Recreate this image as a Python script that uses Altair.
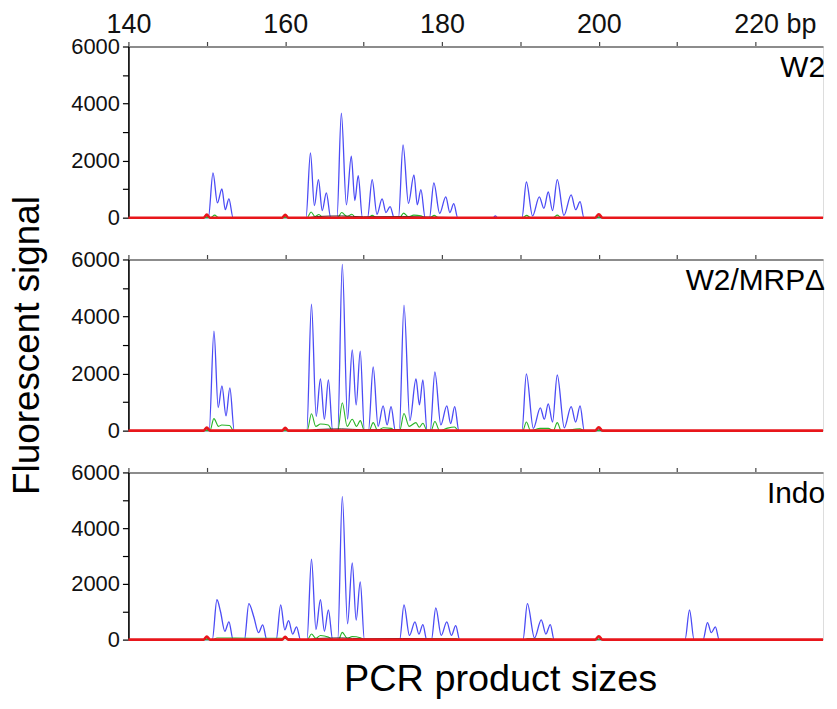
import altair as alt
import pandas as pd

# ---------------- data ----------------
# x: PCR product size (bp), y: fluorescent signal
x_ticks = [140, 150, 160, 170, 180, 190, 200, 210, 220]
x_domain = [140, 228.6]
y_ticks = [0, 1000, 2000, 3000, 4000, 5000, 6000]
panel_names = ["W2", "W2/MRP\u0394", "Indo"]

# W2 panel
w2_blue_bp = [140.0, 150.2, 150.79, 151.35, 151.93, 152.35, 152.82, 153.35,
              162.65, 163.22, 163.72, 164.24, 164.72, 165.25, 165.8,
              166.6, 167.16, 167.8, 168.43, 168.88, 169.31, 169.85,
              170.5, 171.09, 171.7, 172.36, 172.85, 173.38, 173.9,
              174.45, 175.03, 175.72, 176.42, 176.85, 177.31, 177.85,
              178.4, 178.96, 179.7, 180.48, 181.0, 181.5, 182.0,
              186.5, 186.8, 187.1,
              190.2, 190.76, 191.55, 192.41, 193.0, 193.55, 194.1, 194.7,
              195.55, 196.47, 197.05, 197.61, 198.1, 228.6]
w2_blue_sig = [0, 0, 1570, 520, 1010, 280, 660, 0,
               0, 2270, 420, 1330, 250, 870, 0,
               0, 3660, 450, 2160, 600, 1470, 0,
               0, 1330, 120, 660, 180, 390, 0,
               0, 2550, 500, 1500, 450, 980, 0,
               0, 1220, 150, 730, 180, 490, 0,
               0, 60, 0,
               0, 1250, 60, 730, 330, 900, 250, 1330,
               80, 800, 280, 560, 0, 0]
w2_green_bp = [140.0, 150.5, 151.0, 151.5, 162.8, 163.3, 163.8, 164.3, 164.8,
               166.7, 167.2, 167.9, 168.5, 169.0, 170.6, 171.1, 171.6,
               174.6, 175.1, 175.7, 176.4, 177.3, 177.8, 178.5, 179.0, 179.5,
               190.3, 190.8, 191.3, 194.2, 194.7, 195.2, 228.6]
w2_green_sig = [0, 0, 90, 0, 0, 200, 40, 110, 0,
                0, 180, 40, 120, 0, 0, 80, 0,
                0, 160, 30, 90, 70, 0, 0, 80, 0,
                0, 80, 0, 0, 90, 0, 0]

# W2/MRP-delta panel
mrp_blue_bp = [140.0, 150.3, 150.91, 151.45, 151.93, 152.45, 152.94, 153.5,
               162.75, 163.35, 163.95, 164.49, 165.0, 165.51, 166.05,
               166.7, 167.28, 167.95, 168.55, 169.05, 169.57, 170.1,
               170.62, 171.22, 171.85, 172.49, 173.0, 173.5, 174.05,
               174.55, 175.15, 175.9, 176.68, 177.12, 177.56, 178.1,
               178.5, 179.09, 179.85, 180.61, 181.1, 181.62, 182.15,
               190.2, 190.76, 191.65, 192.54, 193.05, 193.55, 194.1, 194.7,
               195.6, 196.47, 197.05, 197.61, 198.15, 228.6]
mrp_blue_sig = [0, 0, 3490, 810, 1570, 520, 1500, 0,
                0, 4430, 500, 1810, 400, 1780, 0,
                0, 5830, 400, 2830, 900, 2790, 0,
                0, 2230, 150, 870, 200, 840, 0,
                0, 4400, 350, 1810, 900, 1780, 0,
                0, 2060, 200, 870, 250, 840, 0,
                0, 1990, 80, 800, 400, 940, 300, 1950,
                100, 840, 300, 870, 0, 0]
mrp_green_bp = [140.0, 150.4, 150.9, 151.5, 151.9, 152.9, 153.4,
                162.8, 163.35, 163.9, 164.5, 165.5, 166.0,
                166.7, 167.28, 167.9, 168.55, 169.1, 169.57, 170.1,
                170.7, 171.22, 171.8, 172.5, 173.5, 174.0,
                174.6, 175.15, 175.8, 176.68, 177.1, 177.56, 178.1,
                178.6, 179.09, 179.7, 180.6, 181.6, 182.1,
                190.3, 190.76, 191.3, 192.54, 193.55, 194.2, 194.7, 195.2,
                197.6, 198.1, 228.6]
mrp_green_sig = [0, 0, 420, 150, 200, 180, 0,
                 0, 590, 150, 230, 200, 0,
                 0, 980, 150, 400, 150, 350, 0,
                 0, 280, 0, 100, 80, 0,
                 0, 600, 150, 280, 120, 260, 0,
                 0, 320, 0, 80, 130, 0,
                 0, 300, 0, 80, 80, 0, 280, 0,
                 60, 0, 0]

# Indo panel
indo_blue_bp = [140.0, 150.7, 151.29, 151.75, 152.3, 152.82, 153.35,
                154.8, 155.36, 155.99, 156.6, 157.13, 157.65,
                158.85, 159.42, 159.95, 160.43, 160.95, 161.45, 161.95,
                162.78, 163.35, 163.92, 164.49, 165.0, 165.51, 166.05,
                166.7, 167.28, 167.95, 168.55, 169.05, 169.57, 170.1,
                174.6, 175.15, 175.85, 176.55, 177.05, 177.56, 178.05,
                178.65, 179.21, 179.9, 180.61, 181.2, 181.75, 182.25,
                190.33, 190.89, 191.8, 192.66, 193.25, 193.81, 194.3,
                211.0, 211.57, 212.15, 213.3, 213.86, 214.35, 214.87, 215.35,
                228.6]
indo_blue_sig = [0, 0, 1430, 1000, 300, 640, 0,
                 0, 1290, 820, 250, 530, 0,
                 0, 1250, 350, 680, 200, 460, 0,
                 0, 2890, 360, 1430, 300, 1070, 0,
                 0, 5140, 570, 2750, 700, 2070, 0,
                 0, 1250, 150, 640, 200, 540, 0,
                 0, 1140, 150, 640, 150, 500, 0,
                 0, 1290, 60, 710, 200, 540, 0,
                 0, 1070, 0, 0, 610, 250, 460, 0,
                 0]
indo_green_bp = [140.0, 150.8, 151.3, 155.4, 159.4, 161.9,
                 162.85, 163.35, 163.9, 164.5, 165.5, 166.0,
                 166.8, 167.28, 167.9, 168.55, 169.57, 170.1,
                 175.0, 175.3, 177.5, 181.8, 182.2,
                 190.6, 190.9, 193.8, 194.2, 228.6]
indo_green_sig = [0, 0, 60, 50, 50, 0,
                  0, 200, 50, 150, 90, 0,
                  0, 260, 50, 110, 70, 0,
                  0, 40, 40, 40, 0,
                  0, 40, 40, 0, 0]

# size-standard (red) and black traces, same in every panel
red_bp = [140.0, 149.6, 150.0, 150.4, 159.6, 160.0, 160.4, 199.5, 200.0, 200.5, 228.6]
red_sig = [0, 0, 110, 0, 0, 100, 0, 0, 120, 0, 0]
black_bp = [140.0, 149.7, 150.0, 150.3, 159.7, 160.0, 160.3, 163.0, 164.0, 167.2,
            170.0, 175.0, 182.0, 199.7, 200.0, 200.3, 228.6]
black_sig = [0, 0, 60, 0, 0, 60, 0, 0, 40, 60, 30, 40, 0, 0, 60, 0, 0]

panels = [
    (panel_names[0], w2_blue_bp, w2_blue_sig, w2_green_bp, w2_green_sig, 172),
    (panel_names[1], mrp_blue_bp, mrp_blue_sig, mrp_green_bp, mrp_green_sig, 172),
    (panel_names[2], indo_blue_bp, indo_blue_sig, indo_green_bp, indo_green_sig, 168),
]

WIDTH = 698
FONT = "Liberation Sans"


def frame(bps, sigs):
    return pd.DataFrame({"bp": bps, "sig": sigs})


def make_panel(idx, name, bb, bs, gb, gs, height):
    top_labels = idx == 0
    xaxis = alt.Axis(
        orient="top", values=x_ticks, labels=top_labels, title=None,
        labelExpr="datum.value == 220 ? '220 bp' : (datum.value % 20 == 0 ? datum.label : '')",
        labelFont=FONT, labelFontSize=27, labelColor="#111",
        labelAlign={"condition": {"test": "datum.value == 220", "value": "left"}, "value": "center"},
        labelOffset={"condition": {"test": "datum.value == 220", "value": -22}, "value": 0},
        labelFlush=False, labelOverlap=False, labelPadding=3,
        domainColor="#8c8c8c", domainWidth=2,
        tickColor="#444", tickWidth=1.2, tickSize=5, grid=False,
    )
    yaxis = alt.Axis(
        values=y_ticks, format="d",
        labelExpr="datum.value % 2000 == 0 ? datum.label : ''",
        labelFont=FONT, labelFontSize=22, labelColor="#111", labelPadding=3,
        domainColor="#000", domainWidth=1.6, tickColor="#000", tickSize=6,
        tickWidth=1.2, grid=False,
        title="Fluorescent signal" if idx == 1 else None,
        titleFont=FONT, titleFontSize=37, titleFontWeight="normal",
        titleColor="#000", titlePadding=24,
    )
    x = alt.X("bp:Q", scale=alt.Scale(domain=x_domain, nice=False, zero=False), axis=xaxis)
    y = alt.Y("sig:Q", scale=alt.Scale(domain=[0, 6000], nice=False), axis=yaxis)

    blue = alt.Chart(frame(bb, bs)).mark_line(
        color="#4b4bf5", strokeWidth=1.3, interpolate="monotone").encode(x=x, y=y)
    green = alt.Chart(frame(gb, gs)).mark_line(
        color="#28b428", strokeWidth=1.1, interpolate="monotone").encode(x=x, y=y)
    black = alt.Chart(frame(black_bp, black_sig)).mark_line(
        color="#222", strokeWidth=1.0, interpolate="monotone").encode(x=x, y=y)
    red = alt.Chart(frame(red_bp, red_sig)).mark_line(
        color="#e8161b", strokeWidth=2.6, interpolate="monotone").encode(x=x, y=y)
    label = alt.Chart(pd.DataFrame({"name": [name]})).mark_text(
        align="right", baseline="alphabetic", font=FONT, fontSize=30, color="#000"
    ).encode(text="name:N", x=alt.value(WIDTH + 2), y=alt.value(31))

    layer = alt.layer(blue, green, black, red, label).properties(width=WIDTH, height=height)
    if idx == 2:
        layer = layer.properties(title=alt.TitleParams(
            "PCR product sizes", orient="bottom", font=FONT, fontSize=38,
            fontWeight="normal", color="#000", dx=25, offset=11))
    return layer


charts = [make_panel(i, *p) for i, p in enumerate(panels)]
chart = alt.vconcat(*charts, spacing=42, bounds="flush").properties(
    padding={"left": 0, "top": 0, "right": 0, "bottom": 0}
).configure_view(stroke=None).configure(font=FONT)

chart.save("out.html", embed_options={"renderer": "svg", "actions": False})
